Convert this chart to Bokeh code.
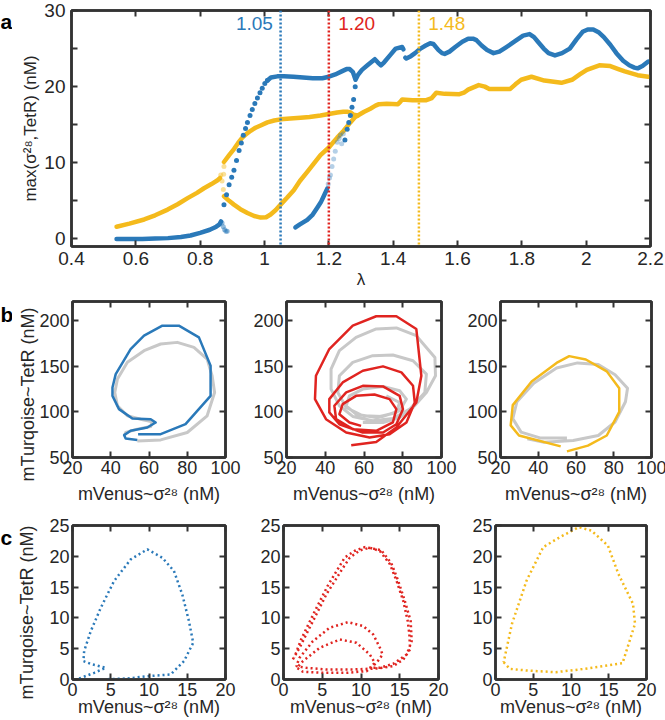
from bokeh.plotting import figure
from bokeh.layouts import column, row
from bokeh.models import Span, Label, LinearAxis, FixedTicker
from bokeh.core.properties import value
from bokeh.embed import file_html
from bokeh.resources import INLINE

# ---------------- data ----------------
# panel a : lambda sweep
blue_low_lam = [0.54, 0.58, 0.62, 0.66, 0.70, 0.74, 0.77, 0.80, 0.83, 0.85, 0.86, 0.865]
blue_low_val = [0.0, 0.0, 0.0, 0.05, 0.1, 0.25, 0.45, 0.8, 1.2, 1.6, 1.9, 2.3]
blue_drop_lam = [0.868, 0.872, 0.876, 0.880, 0.884]
blue_drop_val = [2.1, 1.6, 1.2, 1.0, 1.0]
blue_rise_lam = [0.874, 0.882, 0.890, 0.898, 0.905, 0.913, 0.921, 0.928, 0.934, 0.941,
                 0.947, 0.955, 0.962, 0.970, 0.978, 0.986, 0.993, 1.001, 1.009]
blue_rise_val = [4.5, 5.8, 7.1, 8.1, 9.0, 10.3, 11.6, 12.6, 13.6, 14.5,
                 15.3, 16.2, 17.0, 17.8, 18.5, 19.2, 19.8, 20.4, 20.8]
blue_up1_lam = [1.009, 1.02, 1.04, 1.06, 1.09, 1.12, 1.15, 1.18, 1.20, 1.22, 1.24, 1.255,
                1.265, 1.275, 1.283, 1.29, 1.303, 1.32, 1.343, 1.352, 1.362, 1.372, 1.39,
                1.408, 1.428, 1.432]
blue_up1_val = [20.8, 21.2, 21.35, 21.35, 21.3, 21.2, 21.1, 21.1, 21.3, 21.6, 22.0, 22.3,
                22.3, 21.9, 20.9, 21.5, 22.2, 22.8, 23.6, 23.2, 22.8, 23.2, 24.1,
                25.0, 25.2, 24.9]
blue_up2_lam = [1.438, 1.441, 1.455, 1.468, 1.485, 1.501, 1.515, 1.525, 1.541, 1.552, 1.560,
                1.575, 1.593, 1.615, 1.633, 1.648, 1.659, 1.675, 1.692, 1.712, 1.73, 1.752,
                1.78, 1.804, 1.824, 1.838, 1.850, 1.868, 1.883, 1.903, 1.925, 1.949, 1.97,
                1.989, 2.005, 2.022, 2.04, 2.055, 2.075, 2.094, 2.115, 2.134, 2.15, 2.160,
                2.175, 2.193]
blue_up2_val = [23.8, 23.7, 24.0, 24.4, 25.0, 25.4, 25.7, 25.6, 24.8, 24.4, 24.3,
                24.6, 25.2, 25.9, 26.3, 26.3, 26.1, 25.4, 24.8, 24.4, 24.6, 25.2,
                26.0, 26.7, 26.9, 26.5, 25.9, 25.0, 24.4, 24.1, 24.4, 25.0, 26.2,
                27.2, 27.5, 27.5, 27.1, 26.5, 25.5, 24.4, 23.4, 22.8, 22.5, 22.4,
                22.7, 23.3]
blue_mid_lam = [1.096, 1.11, 1.133, 1.15, 1.164, 1.175, 1.184, 1.195]
blue_mid_val = [1.5, 1.9, 2.5, 3.2, 4.1, 4.8, 5.6, 6.6]
blue_faint_lam = [1.198, 1.202, 1.205, 1.21, 1.215, 1.22, 1.226, 1.232, 1.236, 1.24, 1.245]
blue_faint_val = [7.2, 8.0, 8.4, 9.5, 10.5, 11.5, 12.7, 13.2, 13.6, 12.5, 13.8]
blue_jump_lam = [1.25, 1.257, 1.262, 1.267, 1.272, 1.277, 1.282]
blue_jump_val = [13.0, 14.4, 15.3, 16.2, 17.3, 18.3, 20.0]

yel_low_lam = [0.54, 0.58, 0.626, 0.66, 0.699, 0.73, 0.761, 0.79, 0.812, 0.835, 0.854, 0.862]
yel_low_val = [1.6, 2.0, 2.55, 3.1, 3.85, 4.55, 5.35, 6.05, 6.65, 7.2, 7.7, 8.0]
yel_faint_lam = [0.864, 0.868, 0.872, 0.873, 0.874]
yel_faint_val = [8.4, 7.6, 6.5, 8.5, 9.5]
yel_up_lam = [0.874, 0.89, 0.905, 0.918, 0.931, 0.944, 0.957, 0.972, 0.988, 1.009, 1.03,
              1.05, 1.08, 1.112, 1.14, 1.174, 1.2, 1.226, 1.245, 1.257, 1.268, 1.277,
              1.290, 1.31, 1.329, 1.345, 1.356, 1.38, 1.415, 1.422, 1.428, 1.46, 1.501,
              1.52, 1.534, 1.56, 1.606, 1.62, 1.633, 1.666, 1.685, 1.699, 1.73, 1.764,
              1.78, 1.798, 1.830, 1.87, 1.923, 1.956, 1.98, 2.002, 2.041, 2.075, 2.10,
              2.120, 2.160, 2.193]
yel_up_val = [10.1, 11.0, 11.8, 12.6, 13.3, 13.8, 14.2, 14.6, 14.9, 15.3, 15.55,
              15.7, 15.8, 15.9, 16.0, 16.2, 16.4, 16.6, 16.7, 16.7, 16.6, 16.3,
              16.2, 16.7, 17.1, 17.5, 17.7, 17.75, 17.7, 18.0, 18.3, 18.2, 18.2,
              18.5, 19.2, 19.05, 19.0, 19.2, 19.6, 20.2, 20.0, 19.7, 19.7, 19.7,
              20.3, 20.9, 21.3, 20.8, 20.5, 20.9, 21.6, 22.2, 22.8, 22.7, 22.3,
              22.0, 21.5, 21.3]
yel_dn_lam = [0.874, 0.89, 0.905, 0.925, 0.947, 0.968, 0.988, 1.005, 1.019, 1.035, 1.05,
              1.07, 1.091, 1.11, 1.133, 1.155, 1.174, 1.2, 1.226, 1.246, 1.267, 1.282, 1.29]
yel_dn_val = [5.6, 5.0, 4.5, 3.9, 3.4, 3.0, 2.8, 2.85, 3.2, 3.8, 4.5,
              5.4, 6.4, 7.6, 8.8, 10.0, 11.0, 12.0, 13.3, 14.2, 15.3, 16.0, 16.2]

marked_lams = [1.05, 1.20, 1.48]
marked_text = ["1.05", "1.20", "1.48"]

a_xticks = [0.4, 0.6, 0.8, 1.0, 1.2, 1.4, 1.6, 1.8, 2.0, 2.2]
a_xtick_labels = ["0.4", "0.6", "0.8", "1", "1.2", "1.4", "1.6", "1.8", "2", "2.2"]
a_yticks = [0, 10, 20, 30]
a_yminor = [5, 15, 25]

# panel b : phase portraits (mVenus, mTurquoise)
b1_x = [54.3, 66.1, 79.1, 92.2, 92.2, 86.1, 75.6, 67.0, 57.4, 50.4, 42.6, 40.9, 40.9, 44.3,
        51.3, 60.9, 63.5, 59.1, 50.4, 47.0, 47.8, 53.9]
b1_y = [75.6, 75.6, 86.5, 117.6, 150.6, 181.7, 194.5, 194.5, 183.5, 168.9, 141.4, 126.8,
        117.6, 103.0, 92.8, 92.0, 88.4, 82.9, 79.3, 74.5, 70.8, 69.3]
b1g_x = [53.9, 66.1, 80.0, 90.4, 94.3, 93.0, 90.4, 83.5, 74.8, 66.1, 57.4, 48.7, 43.5, 42.1,
         43.5, 48.7, 55.6, 61.7, 60.9, 53.9, 47.8, 47.0]
b1g_y = [68.2, 69.3, 77.4, 95.7, 121.3, 139.6, 157.9, 170.7, 176.2, 174.4, 167.1, 154.3,
         136.0, 121.3, 106.7, 95.7, 92.0, 89.1, 84.0, 81.1, 77.4, 73.7]

b2_x = [53.4, 66.3, 76.7, 87.0, 89.6, 87.0, 76.7, 66.3, 54.2, 42.1, 35.2, 34.7, 40.4, 50.8,
        62.9, 73.2, 81.9, 86.2, 85.3, 79.3, 69.8, 59.4, 49.0, 42.1, 42.1, 47.3, 59.4, 69.8,
        76.7, 80.1, 78.4, 69.8, 59.4, 50.8, 44.7, 45.6, 54.2, 66.3, 74.9, 76.7, 73.2, 65.4,
        55.9, 49.0, 47.3, 52.5, 58.5]
b2_y = [63.5, 67.1, 82.9, 110.3, 139.6, 190.9, 204.8, 204.8, 194.5, 168.9, 139.6, 114.0,
        92.0, 77.4, 71.9, 75.6, 88.4, 110.3, 128.6, 143.3, 149.9, 145.1, 132.3, 114.0, 99.4,
        86.5, 77.4, 77.4, 86.5, 103.0, 117.6, 127.9, 128.6, 121.3, 106.7, 92.0, 81.1, 79.3,
        88.4, 103.0, 114.0, 119.1, 117.6, 108.5, 97.5, 88.4, 84.7]
b2g_x = [59.4, 69.8, 78.4, 85.3, 92.2, 96.9, 96.6, 87.0, 76.7, 66.3, 55.9, 47.3, 43.0, 43.0,
         47.3, 54.2, 64.5, 74.9, 83.6, 91.4, 92.2, 85.3, 74.9, 64.5, 54.2, 47.3, 46.5, 50.8,
         59.4, 69.8, 78.4, 81.9, 78.4, 69.8, 59.4, 52.5, 50.8, 55.9, 66.3, 76.7, 78.4, 71.5]
b2g_y = [88.4, 88.4, 93.9, 104.8, 121.3, 139.6, 159.7, 183.5, 192.0, 190.9, 181.7, 167.1,
         146.9, 125.0, 106.7, 95.0, 90.2, 92.8, 103.0, 121.3, 141.4, 156.1, 162.3, 161.6,
         154.3, 139.6, 121.3, 104.8, 95.7, 95.0, 101.2, 114.0, 123.1, 127.9, 125.0, 117.6,
         106.7, 97.5, 93.9, 99.4, 110.3, 117.6]

b3_x = [51.9, 29.8, 25.4, 26.5, 36.5, 49.7, 56.4, 65.2, 76.3, 82.9, 82.9, 76.3, 66.3, 55.2]
b3_y = [62.2, 74.1, 85.2, 107.4, 133.3, 153.7, 161.1, 157.4, 144.4, 125.9, 100.0, 74.1,
        63.0, 56.7]
b3g_x = [55.2, 40.9, 30.9, 26.5, 28.7, 37.6, 49.7, 60.8, 71.8, 80.7, 87.3, 86.2, 80.7, 71.8,
         58.5, 43.1, 34.2]
b3g_y = [71.5, 71.5, 77.8, 92.6, 111.1, 131.5, 148.1, 153.7, 151.9, 140.7, 125.9, 111.1,
         88.9, 74.1, 68.6, 66.7, 70.4]

b_xticks = [20, 40, 60, 80, 100]
b_yticks = [50, 100, 150, 200]

# panel c : phase portraits (model)
c1_x = [0.87, 2.83, 4.35, 2.61, 1.43, 1.52, 2.39, 3.70, 5.43, 7.61, 9.78, 11.74, 13.26,
        14.35, 15.22, 15.78, 14.57, 12.83, 9.78, 7.17, 4.57]
c1_y = [0.16, 1.08, 1.90, 2.44, 2.98, 4.60, 7.85, 11.65, 15.98, 19.50, 21.13, 19.77, 17.61,
        13.81, 9.48, 5.96, 2.98, 0.81, 0.54, 0.16, 0.05]

c2_x = [1.21, 2.07, 3.80, 5.53, 7.69, 8.55, 9.85, 11.14, 12.44, 13.74, 14.60, 15.46, 16.03,
        16.24, 16.33, 15.46, 14.17, 12.01, 8.98, 5.53, 2.94, 1.64,
        2.07, 3.80, 5.96, 8.34, 10.28, 11.58, 12.44, 12.79, 12.01, 10.71, 8.12, 5.10, 2.51,
        1.73,
        2.51, 4.67, 7.26, 9.42, 11.14, 11.79, 11.14, 12.44, 14.17, 15.90, 16.54, 16.41,
        15.62, 14.75, 13.90, 12.60, 10.50, 9.20, 7.90, 5.70, 4.00, 2.30, 1.40]
c2_y = [3.25, 5.15, 9.48, 13.81, 18.15, 19.77, 20.96, 21.40, 20.86, 18.69, 15.98, 12.73,
        9.48, 7.31, 4.88, 3.25, 2.17, 1.79, 1.63, 1.63, 1.90, 2.17,
        3.52, 6.23, 8.40, 9.32, 8.67, 7.31, 5.15, 4.06, 2.71, 1.35, 1.08, 1.08, 1.25, 1.90,
        2.98, 5.15, 6.50, 5.96, 4.06, 2.71, 1.90, 1.90, 2.55, 4.06, 6.23, 9.48,
        12.90, 16.20, 18.90, 21.00, 21.50, 20.90, 19.80, 15.20, 11.00, 6.60, 3.60]

c3_x = [1.08, 1.90, 4.12, 7.97, 11.84, 16.82, 18.48, 18.21, 16.27, 14.88, 12.68, 11.03,
        8.53, 6.32, 4.12, 2.18, 1.08]
c3_y = [2.81, 1.73, 1.46, 1.19, 1.73, 2.64, 9.04, 12.29, 17.16, 21.75, 24.19, 24.73,
        23.11, 21.49, 16.07, 9.04, 2.81]

c_xticks = [0, 5, 10, 15, 20]
c_yticks = [0, 5, 10, 15, 20, 25]

# ---------------- style ----------------
FONT = "Liberation Sans"
TXT = "#262626"
FRAME = "#333333"
BLUE = "#2a79b9"
YEL = "#f4ba1c"
RED = "#e02420"
GRAY = "#c8c8c8"
NB = "\u00a0"


def make_fig(fw, fh, bl, br, bt, bb, xr, yr, xticks, yticks, xlabel, ylabel,
             tick_fs, lab_fs, x_std, xl_std, y_std, yl_std,
             x_over=None, y_minor=None):
    p = figure(frame_width=fw, frame_height=fh, min_border_left=bl, min_border_right=br,
               min_border_top=bt, min_border_bottom=bb, x_range=xr, y_range=yr,
               output_backend="svg", toolbar_location=None,
               x_axis_label=xlabel, y_axis_label=ylabel)
    p.grid.visible = False
    p.outline_line_color = FRAME
    p.outline_line_width = 2.5
    p.background_fill_color = "white"
    p.border_fill_color = "white"
    p.xaxis.ticker = FixedTicker(ticks=xticks)
    p.yaxis.ticker = FixedTicker(ticks=yticks, minor_ticks=y_minor or [])
    if x_over:
        p.xaxis.major_label_overrides = x_over
    for ax in p.axis:
        ax.major_tick_in = 6
        ax.major_tick_out = 0
        ax.minor_tick_in = 6
        ax.minor_tick_out = 0
        ax.major_tick_line_color = FRAME
        ax.major_tick_line_width = 2
        ax.minor_tick_line_color = FRAME if y_minor else None
        ax.minor_tick_line_width = 2
        ax.axis_line_color = FRAME
        ax.axis_line_width = 2.5
        ax.major_label_text_font = FONT
        ax.major_label_text_font_size = f"{tick_fs}px"
        ax.major_label_text_color = TXT
        ax.axis_label_text_font = FONT
        ax.axis_label_text_font_size = f"{lab_fs}px"
        ax.axis_label_text_font_style = "normal"
        ax.axis_label_text_color = TXT
    p.xaxis.major_label_standoff = x_std
    p.xaxis.axis_label_standoff = xl_std
    p.yaxis.major_label_standoff = y_std
    p.yaxis.axis_label_standoff = yl_std
    # mirrored tick marks on top and right (box on), no labels
    top = LinearAxis(ticker=FixedTicker(ticks=xticks), major_label_text_color=None,
                     major_label_standoff=0, major_tick_in=6, major_tick_out=0,
                     major_tick_line_color=FRAME, major_tick_line_width=2,
                     minor_tick_line_color=None, axis_line_color=FRAME, axis_line_width=2.5)
    right = LinearAxis(ticker=FixedTicker(ticks=yticks, minor_ticks=y_minor or []),
                       major_label_text_color=None,
                       major_label_standoff=0, major_tick_in=6, major_tick_out=0,
                       minor_tick_in=6, minor_tick_out=0,
                       major_tick_line_color=FRAME, major_tick_line_width=2,
                       minor_tick_line_color=FRAME if y_minor else None,
                       minor_tick_line_width=2,
                       axis_line_color=FRAME, axis_line_width=2.5)
    p.add_layout(top, "above")
    p.add_layout(right, "right")
    return p


def strip(w, fh, bt, bb, letter, ly):
    """narrow margin figure (frame aligned with its row) holding the panel letter"""
    s = figure(title=None, frame_width=w, frame_height=fh, min_border_left=0,
               min_border_right=0, min_border_top=bt, min_border_bottom=bb,
               x_range=(0, w), y_range=(0, fh),
               x_axis_location=None, y_axis_location=None, toolbar_location=None,
               output_backend="svg")
    s.grid.visible = False
    s.outline_line_color = None
    s.background_fill_color = "white"
    s.border_fill_color = "white"
    s.text(x=[0], y=[ly], text=[letter], text_font=value(FONT),
           text_font_size=value("21px"), text_font_style="bold", text_color="black",
           text_align="left", text_baseline="middle")
    return s


# ---------------- panel a ----------------
pa = make_fig(579, 236, 59, 15, 10, 49, (0.4, 2.2), (-1, 30), a_xticks, a_yticks,
              "λ", "max(σ²⁸,TetR) (nM)", 19, 17, 5, 2, 6, 1,
              x_over=dict(zip(a_xticks, a_xtick_labels)), y_minor=a_yminor)
pa.xaxis[0].axis_label_text_font_size = "19px"

line_kw = dict(line_width=4.5, line_cap="round", line_join="round")
pa.line(yel_low_lam, yel_low_val, color=YEL, **line_kw)
pa.line(yel_up_lam, yel_up_val, color=YEL, **line_kw)
pa.line(yel_dn_lam, yel_dn_val, color=YEL, **line_kw)
pa.scatter(yel_faint_lam, yel_faint_val, size=5, color=YEL, alpha=0.45, line_color=None)

pa.line(blue_low_lam, blue_low_val, color=BLUE, **line_kw)
pa.line(blue_up1_lam, blue_up1_val, color=BLUE, **line_kw)
pa.line(blue_up2_lam, blue_up2_val, color=BLUE, **line_kw)
pa.line(blue_mid_lam, blue_mid_val, color=BLUE, **line_kw)
pa.scatter(blue_drop_lam, blue_drop_val, size=5, color=BLUE, alpha=0.5, line_color=None)
pa.scatter(blue_rise_lam, blue_rise_val, size=5, color=BLUE, line_color=None)
pa.scatter(blue_faint_lam, blue_faint_val, size=5, color=BLUE, alpha=0.35, line_color=None)
pa.scatter(blue_jump_lam, blue_jump_val, size=5, color=BLUE, line_color=None)

mark_cols = [BLUE, RED, YEL]
mark_align = ["right", "left", "left"]
mark_dx = [-0.024, 0.029, 0.029]
for lam, txt, col, al, dx in zip(marked_lams, marked_text, mark_cols, mark_align, mark_dx):
    pa.add_layout(Span(location=lam, dimension="height", line_color=col,
                       line_width=2.5, line_dash="2 2"))
    pa.add_layout(Label(x=lam + dx, y=28.3, text=txt, text_align=al, text_baseline="middle",
                        text_font=FONT, text_font_size="19px", text_color=col))
sa = strip(12, 236, 10, 49, "a", 225)

# ---------------- panel b ----------------
vlab = "mVenus~σ²⁸ (nM)"
tlab = "mTurqoise~TetR (nM)"
pb1 = make_fig(153, 156, 60, 25, 6, 50, (20, 100), (50, 221), b_xticks, b_yticks,
               vlab, tlab + NB * 6, 18, 18, 3, 7, 3, -2)
pb2 = make_fig(155, 156, 33, 23, 6, 50, (20, 100), (50, 221), b_xticks, b_yticks,
               vlab, None, 18, 18, 3, 7, 3, 6)
pb3 = make_fig(151, 156, 34, 19, 6, 50, (20, 100), (50, 221), b_xticks, b_yticks,
               vlab, None, 18, 18, 3, 7, 3, 6)
pb1.line(b1g_x, b1g_y, color=GRAY, line_width=3, line_join="round")
pb1.line(b1_x, b1_y, color=BLUE, line_width=2.5, line_join="round")
pb2.line(b2g_x, b2g_y, color=GRAY, line_width=3, line_join="round")
pb2.line(b2_x, b2_y, color=RED, line_width=2.5, line_join="round")
pb3.line(b3g_x, b3g_y, color=GRAY, line_width=3, line_join="round")
pb3.line(b3_x, b3_y, color=YEL, line_width=2.5, line_join="round")
sb = strip(12, 156, 6, 50, "b", 143)

# ---------------- panel c ----------------
pc1 = make_fig(153, 154, 60, 25, 18, 41, (0, 20), (0, 25), c_xticks, c_yticks,
               vlab, tlab + NB * 4, 18, 18, 3, -2, 3, 9)
pc2 = make_fig(155, 154, 33, 23, 18, 41, (0, 20), (0, 25), c_xticks, c_yticks,
               vlab, None, 18, 18, 3, -2, 3, 6)
pc3 = make_fig(151, 154, 34, 19, 18, 41, (0, 20), (0, 25), c_xticks, c_yticks,
               vlab, None, 18, 18, 3, -2, 3, 6)
dot_kw = dict(line_width=2.5, line_dash="2 3")
pc1.line(c1_x, c1_y, color=BLUE, **dot_kw)
pc2.line(c2_x, c2_y, color=RED, **dot_kw)
pc3.line(c3_x, c3_y, color=YEL, **dot_kw)
sc = strip(12, 154, 18, 41, "c", 142)

layout = column(row(sa, pa), row(sb, pb1, pb2, pb3), row(sc, pc1, pc2, pc3))
open("out.html", "w").write(file_html(layout, INLINE))
